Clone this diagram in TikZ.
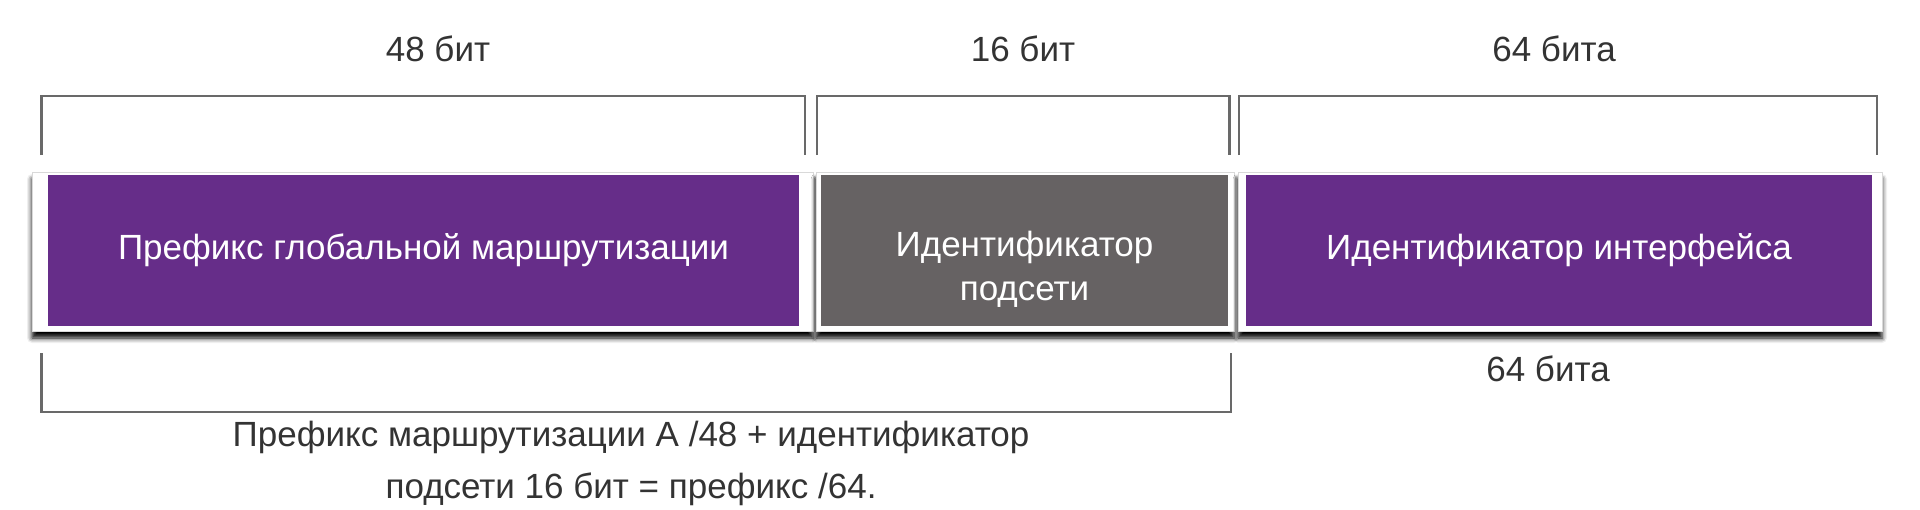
\documentclass[tikz,border=0pt]{standalone}
\usepackage{fontspec}
\setmainfont{Liberation Sans}
\usetikzlibrary{shadows.blur}
\definecolor{purp}{RGB}{102,45,137}
\definecolor{graybox}{RGB}{102,98,99}
\definecolor{brk}{RGB}{105,105,105}
\definecolor{txt}{RGB}{51,51,51}
\begin{document}
\begin{tikzpicture}[x=1pt,y=-1pt,
  card/.style={fill=white,draw=black!15,line width=0.8pt,
    blur shadow={shadow xshift=0pt,shadow yshift=-7pt,shadow blur radius=5pt,shadow opacity=100}},
  field/.style={draw=none,text=white,align=center,inner sep=0pt,
    font=\fontsize{35}{44}\selectfont},
  label/.style={text=txt,align=center,inner sep=0pt,font=\fontsize{35}{52}\selectfont},
  bracket/.style={draw=brk,line width=2.6pt}]
\useasboundingbox (0,0) rectangle (1920,509);
% cards
\draw[card] (32,172) rectangle (813,331);
\draw[card] (816,172) rectangle (1234,331);
\draw[card] (1238,172) rectangle (1882,331);
% fields
\node[field,fill=purp,minimum width=751pt,minimum height=151pt] (glob) at (423.5,250.5) {Префикс глобальной маршрутизации};
\node[field,fill=graybox,minimum width=407pt,minimum height=151pt] (sub) at (1024.5,250.5) {};
\node[field] (subt) at (1024.5,269.5) {Идентификатор\\подсети};
\node[field,fill=purp,minimum width=626pt,minimum height=151pt] (iface) at (1559,250.5) {Идентификатор интерфейса};
% top labels
\node[label] (l48) at (438,49) {48 бит};
\node[label] (l16) at (1023,49) {16 бит};
\node[label] (l64) at (1554,49) {64 бита};
% top brackets
\coordinate (a1) at (41.5,155); \coordinate (a2) at (805,155);
\coordinate (b1) at (817,155); \coordinate (b2) at (1229.5,155);
\coordinate (c1) at (1239,155); \coordinate (c2) at (1877,155);
\draw[bracket] (a1) -- ++(0,-59) -| (a2);
\draw[bracket] (b1) -- ++(0,-59) -| (b2);
\draw[bracket] (c1) -- ++(0,-59) -| (c2);
% bottom bracket
\coordinate (d1) at (41.5,353); \coordinate (d2) at (1231,353);
\draw[bracket] (d1) -- ++(0,59) -| (d2);
% bottom labels
\node[label] (l64b) at (1548,369) {64 бита};
\node[label] (sum) at (631,463) {Префикс маршрутизации А /48 + идентификатор\\подсети 16 бит = префикс /64.};
\end{tikzpicture}
\end{document}
